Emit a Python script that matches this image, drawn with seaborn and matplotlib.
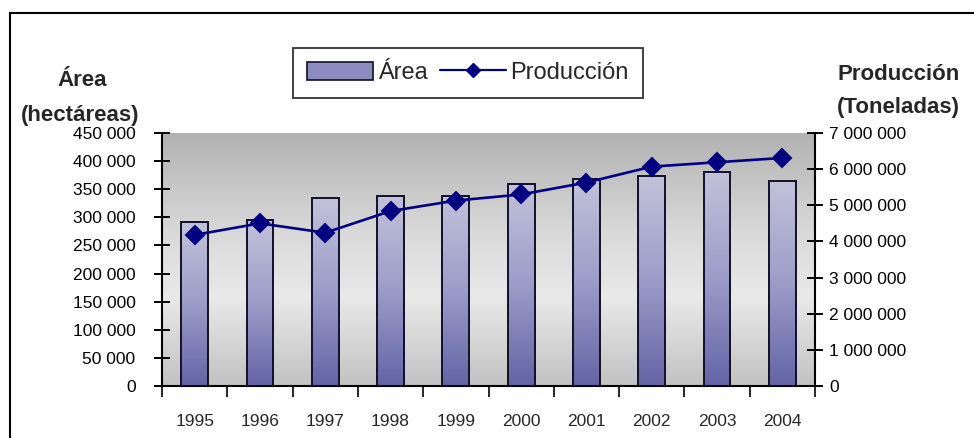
import matplotlib
matplotlib.use("Agg")
import matplotlib.pyplot as plt
import numpy as np
import pandas as pd
import seaborn as sns
from matplotlib.colors import LinearSegmentedColormap
from matplotlib.patches import Patch, Rectangle
from matplotlib.lines import Line2D
from matplotlib.ticker import FuncFormatter, MultipleLocator, FixedLocator

# data
years = [1995, 1996, 1997, 1998, 1999, 2000, 2001, 2002, 2003, 2004]
area = [291000, 295000, 334000, 338000, 338000, 359000, 367500, 373500, 381000, 364000]
produccion = [4180000, 4500000, 4240000, 4840000, 5130000, 5300000, 5630000, 6070000, 6190000, 6310000]

df = pd.DataFrame({"year": years, "area": area, "produccion": produccion})

sns.set_style("white")
plt.rcParams["font.family"] = ["Liberation Sans", "DejaVu Sans"]

fig = plt.figure(figsize=(9.74, 4.38), dpi=100)
ax = fig.add_axes([162 / 974, 52 / 438, 653 / 974, 253 / 438])

sns.barplot(data=df, x="year", y="area", ax=ax, width=0.41, color="#8c8cc0",
            edgecolor="#101028", linewidth=1.4, zorder=3)

ax.set_xlim(-0.5, 9.5)
ax.set_ylim(0, 450000)

# plot area gradient (dark top, light middle, greyer bottom)
bg_cmap = LinearSegmentedColormap.from_list(
    "bg", [(0, "#c2c2c2"), (0.35, "#e9e9e9"), (0.6, "#dadada"), (1, "#b2b2b2")])
grad = np.linspace(0, 1, 256).reshape(-1, 1)
ax.imshow(grad, extent=[-0.5, 9.5, 0, 450000], aspect="auto", origin="lower",
          cmap=bg_cmap, zorder=0)

# bar gradients
bar_cmap = LinearSegmentedColormap.from_list("bar", ["#6464a6", "#9c9cc8", "#c2c2da"])
for p in ax.patches:
    x0, y0 = p.get_x(), p.get_y()
    w, h = p.get_width(), p.get_height()
    im = ax.imshow(grad, extent=[x0, x0 + w, y0, y0 + h], aspect="auto",
                   origin="lower", cmap=bar_cmap, zorder=2.5)
    im.set_clip_path(p)
    p.set_facecolor("none")

ax.set_xlim(-0.5, 9.5)
ax.set_ylim(0, 450000)

ax2 = ax.twinx()
sns.pointplot(data=df, x="year", y="produccion", ax=ax2, color="#000080",
              markers="D", markersize=9, linewidth=1.9, errorbar=None)
ax2.set_xlim(-0.5, 9.5)
ax2.set_ylim(0, 7000000)

fmt = FuncFormatter(lambda v, pos: f"{v:,.0f}".replace(",", " "))
ax.yaxis.set_major_locator(MultipleLocator(50000))
ax.yaxis.set_major_formatter(fmt)
ax2.yaxis.set_major_locator(MultipleLocator(1000000))
ax2.yaxis.set_major_formatter(fmt)

ax.set_xlabel("")
ax.set_ylabel("")
ax2.set_xlabel("")
ax2.set_ylabel("")

for a in (ax, ax2):
    for s in a.spines.values():
        s.set_visible(False)
ax.spines["left"].set_visible(True)
ax.spines["bottom"].set_visible(True)
ax2.spines["right"].set_visible(True)
for s in ("left", "bottom"):
    ax.spines[s].set_color("black")
    ax.spines[s].set_linewidth(1.5)
ax2.spines["right"].set_color("black")
ax2.spines["right"].set_linewidth(1.5)

ax.tick_params(axis="y", direction="inout", length=12, width=1.4, pad=13,
               labelsize=12.5, left=True, colors="black")
ax2.tick_params(axis="y", direction="inout", length=12, width=1.4, pad=4,
                labelsize=12.5, right=True, colors="black")
ax.tick_params(axis="x", which="major", length=0, pad=20, labelsize=12.5)
ax.xaxis.set_minor_locator(FixedLocator(np.arange(-0.5, 10, 1.0)))
ax.tick_params(axis="x", which="minor", direction="out", length=8, width=1.4,
               bottom=True)
ax2.tick_params(axis="x", which="both", length=0, labelbottom=False)

# axis titles
fig.text(82 / 974, 1 - 80 / 438, "Área", ha="center", va="center",
         fontsize=16, fontweight="bold")
fig.text(80 / 974, 1 - 115 / 438, "(hectáreas)", ha="center", va="center",
         fontsize=16, fontweight="bold")
fig.text(899 / 974, 1 - 75 / 438, "Producción", ha="center", va="center",
         fontsize=16, fontweight="bold")
fig.text(898 / 974, 1 - 107 / 438, "(Toneladas)", ha="center", va="center",
         fontsize=16, fontweight="bold")

# legend
handles = [Patch(facecolor="#8c8cc0", edgecolor="#101028", linewidth=1.2),
           Line2D([], [], color="#000080", marker="D", markersize=7, linewidth=1.6)]
leg = fig.legend(handles, ["Área", "Producción"], loc="center",
                 bbox_to_anchor=(468 / 974, 1 - 73 / 438), ncol=2, fontsize=17,
                 frameon=True, fancybox=False, edgecolor="black",
                 borderpad=0.6, handlelength=2.8, handleheight=0.8,
                 handletextpad=0.2, columnspacing=0.5, borderaxespad=0)
leg.get_frame().set_linewidth(1.3)

# outer chart frame
fig.patches.append(Rectangle((10 / 974, -0.05), 1.0, 1.05 - 13 / 438,
                             transform=fig.transFigure, fill=False,
                             edgecolor="black", linewidth=1.5))

fig.savefig("out.png", dpi=100)
